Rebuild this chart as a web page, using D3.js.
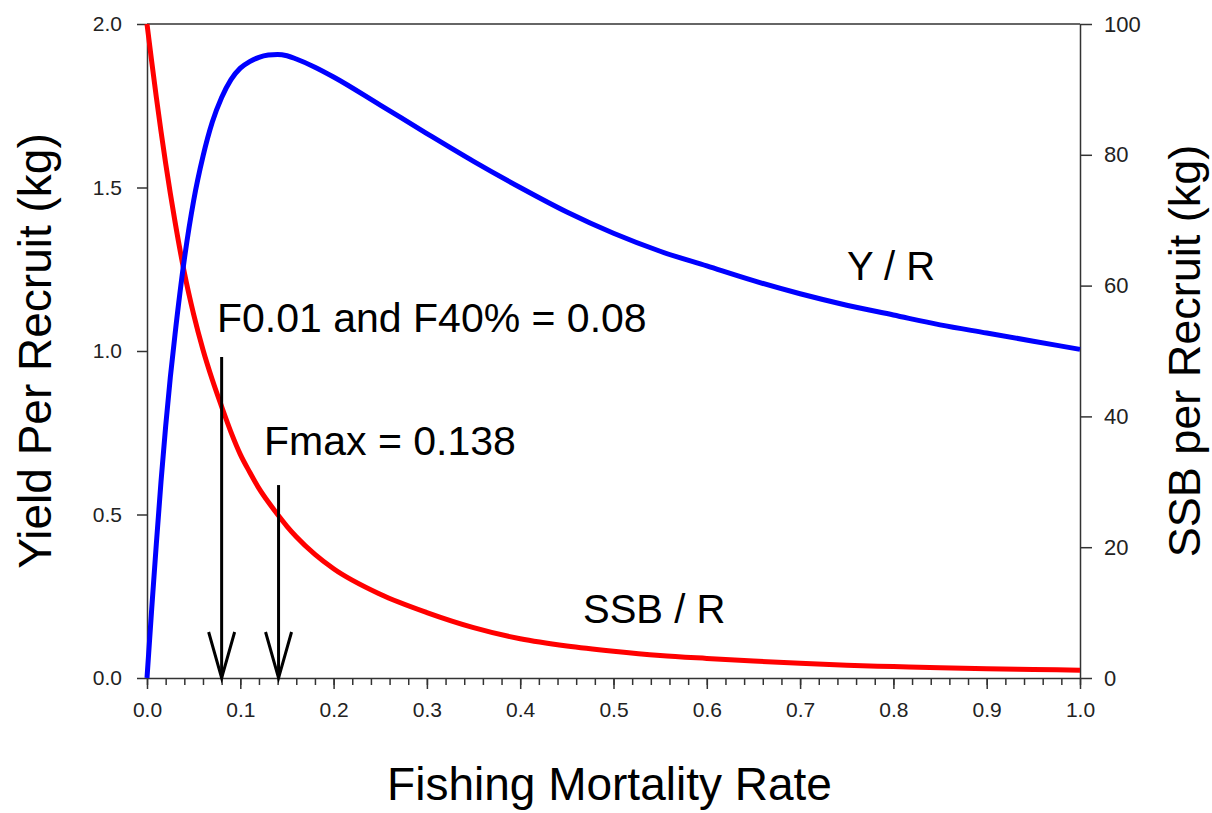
<!DOCTYPE html>
<html>
<head>
<meta charset="utf-8">
<script src="https://cdn.jsdelivr.net/npm/d3@7"></script>
<style>
  body { margin: 0; background: #fff; }
  text { font-family: "Liberation Sans", Arial, sans-serif; }
</style>
</head>
<body>
<script>
// fishing mortality grid
const fRate = [0, 0.005, 0.01, 0.015, 0.02, 0.025, 0.03, 0.04, 0.05, 0.06, 0.07, 0.08, 0.09, 0.10,
  0.11, 0.12, 0.13, 0.14, 0.15, 0.16, 0.18, 0.20, 0.25, 0.30, 0.35, 0.40, 0.45, 0.50, 0.55, 0.60,
  0.65, 0.70, 0.75, 0.80, 0.85, 0.90, 0.95, 1.00];

// yield per recruit (kg), left axis
const ypr = [0, 0.21, 0.41, 0.60, 0.77, 0.92, 1.05, 1.28, 1.46, 1.595, 1.70, 1.775, 1.83, 1.865,
  1.885, 1.898, 1.905, 1.907, 1.903, 1.893, 1.868, 1.838, 1.752, 1.665, 1.58, 1.50, 1.425, 1.36, 1.305, 1.26,
  1.215, 1.175, 1.14, 1.11, 1.08, 1.055, 1.03, 1.005];

// spawning stock biomass per recruit (kg), right axis
const sspr = [100, 94.3, 88.8, 83.6, 78.7, 74.1, 69.8, 62.0, 55.6, 50.2, 45.6, 41.5, 37.6, 34.2,
  31.5, 29.0, 26.9, 25.0, 23.2, 21.6, 18.9, 16.7, 12.8, 10.0, 7.7, 6.0, 4.9, 4.1, 3.45, 3.0,
  2.6, 2.25, 1.95, 1.75, 1.55, 1.4, 1.3, 1.2];

const leftTicks = [0, 0.5, 1.0, 1.5, 2.0];
const rightTicks = [0, 20, 40, 60, 80, 100];
const xTicks = [0, 0.1, 0.2, 0.3, 0.4, 0.5, 0.6, 0.7, 0.8, 0.9, 1.0];
const xMinor = d3.range(0, 51).map(i => i / 50);

// reference points marked with arrows: F value, top of the arrow (left axis units)
const arrowF = [0.08, 0.141];
const arrowTop = [0.982, 0.59];

const width = 1212;
const height = 813;
const margin = { top: 24, right: 132, bottom: 135, left: 147 };

const svg = d3.select('body').append('svg')
  .attr('width', width)
  .attr('height', height);

const x = d3.scaleLinear().domain([0, 1]).range([margin.left, width - margin.right]);
const yL = d3.scaleLinear().domain([0, 2]).range([height - margin.bottom, margin.top]);
const yR = d3.scaleLinear().domain([0, 100]).range([height - margin.bottom, margin.top]);

const axisColor = '#333';

// top frame line
svg.append('line')
  .attr('x1', x(0)).attr('x2', x(1))
  .attr('y1', yL(2)).attr('y2', yL(2))
  .attr('stroke', axisColor).attr('stroke-width', 1.5);

// minor x ticks
svg.append('g')
  .attr('transform', `translate(0, ${yL(0)})`)
  .call(d3.axisBottom(x).tickValues(xMinor).tickSize(7).tickSizeOuter(0).tickFormat(''))
  .call(g => g.select('.domain').remove());

const styleAxis = (g, size) => {
  g.selectAll('path, line').attr('stroke', axisColor).attr('stroke-width', 1.5);
  g.selectAll('text').attr('fill', '#222').style('font-size', size + 'px');
};

svg.append('g')
  .attr('transform', `translate(0, ${yL(0)})`)
  .call(d3.axisBottom(x).tickValues(xTicks).tickSize(11).tickSizeOuter(0).tickPadding(13)
    .tickFormat(d3.format('.1f')))
  .call(g => styleAxis(g, 21));

svg.append('g')
  .attr('transform', `translate(${x(0)}, 0)`)
  .call(d3.axisLeft(yL).tickValues(leftTicks).tickSize(10).tickSizeOuter(0).tickPadding(15)
    .tickFormat(d3.format('.1f')))
  .call(g => styleAxis(g, 21));

svg.append('g')
  .attr('transform', `translate(${x(1)}, 0)`)
  .call(d3.axisRight(yR).tickValues(rightTicks).tickSize(12).tickSizeOuter(0).tickPadding(12))
  .call(g => styleAxis(g, 22));

svg.selectAll('.tick line').attr('stroke', axisColor).attr('stroke-width', 1.5);

// curves
const yprLine = d3.line()
  .x((d, i) => x(fRate[i]))
  .y(d => yL(d))
  .curve(d3.curveMonotoneX);

const ssbLine = d3.line()
  .x((d, i) => x(fRate[i]))
  .y(d => yR(d))
  .curve(d3.curveMonotoneX);

svg.append('path')
  .attr('d', ssbLine(sspr))
  .attr('fill', 'none')
  .attr('stroke', '#ff0000')
  .attr('stroke-width', 5);

svg.append('path')
  .attr('d', yprLine(ypr))
  .attr('fill', 'none')
  .attr('stroke', '#0000ff')
  .attr('stroke-width', 5);

// arrows
arrowF.forEach((f, i) => {
  const ax = x(f);
  const tip = yL(0);
  svg.append('line')
    .attr('x1', ax).attr('x2', ax)
    .attr('y1', yL(arrowTop[i])).attr('y2', tip)
    .attr('stroke', '#000').attr('stroke-width', 3);
  svg.append('path')
    .attr('d', `M${ax - 13},${tip - 46} L${ax},${tip} L${ax + 13},${tip - 46}`)
    .attr('fill', 'none')
    .attr('stroke', '#000').attr('stroke-width', 3);
});

// annotations
const note = (tx, ty, s, size) => svg.append('text')
  .attr('x', tx).attr('y', ty)
  .style('font-size', size + 'px')
  .attr('fill', '#000')
  .text(s);

note(217, 332, 'F0.01 and F40% = 0.08', 41);
note(264, 455, 'Fmax = 0.138', 41);
note(847, 280, 'Y / R', 40);
note(583, 623, 'SSB / R', 40);

// axis titles
svg.append('text')
  .attr('x', (x(0) + x(1)) / 2 - 4)
  .attr('y', 800)
  .attr('text-anchor', 'middle')
  .style('font-size', '46px')
  .text('Fishing Mortality Rate');

svg.append('text')
  .attr('transform', `translate(51, ${(yL(0) + yL(2)) / 2}) rotate(-90)`)
  .attr('text-anchor', 'middle')
  .style('font-size', '46px')
  .text('Yield Per Recruit (kg)');

svg.append('text')
  .attr('transform', `translate(1200, ${(yL(0) + yL(2)) / 2}) rotate(-90)`)
  .attr('text-anchor', 'middle')
  .style('font-size', '45px')
  .text('SSB per Recruit (kg)');
</script>
</body>
</html>
